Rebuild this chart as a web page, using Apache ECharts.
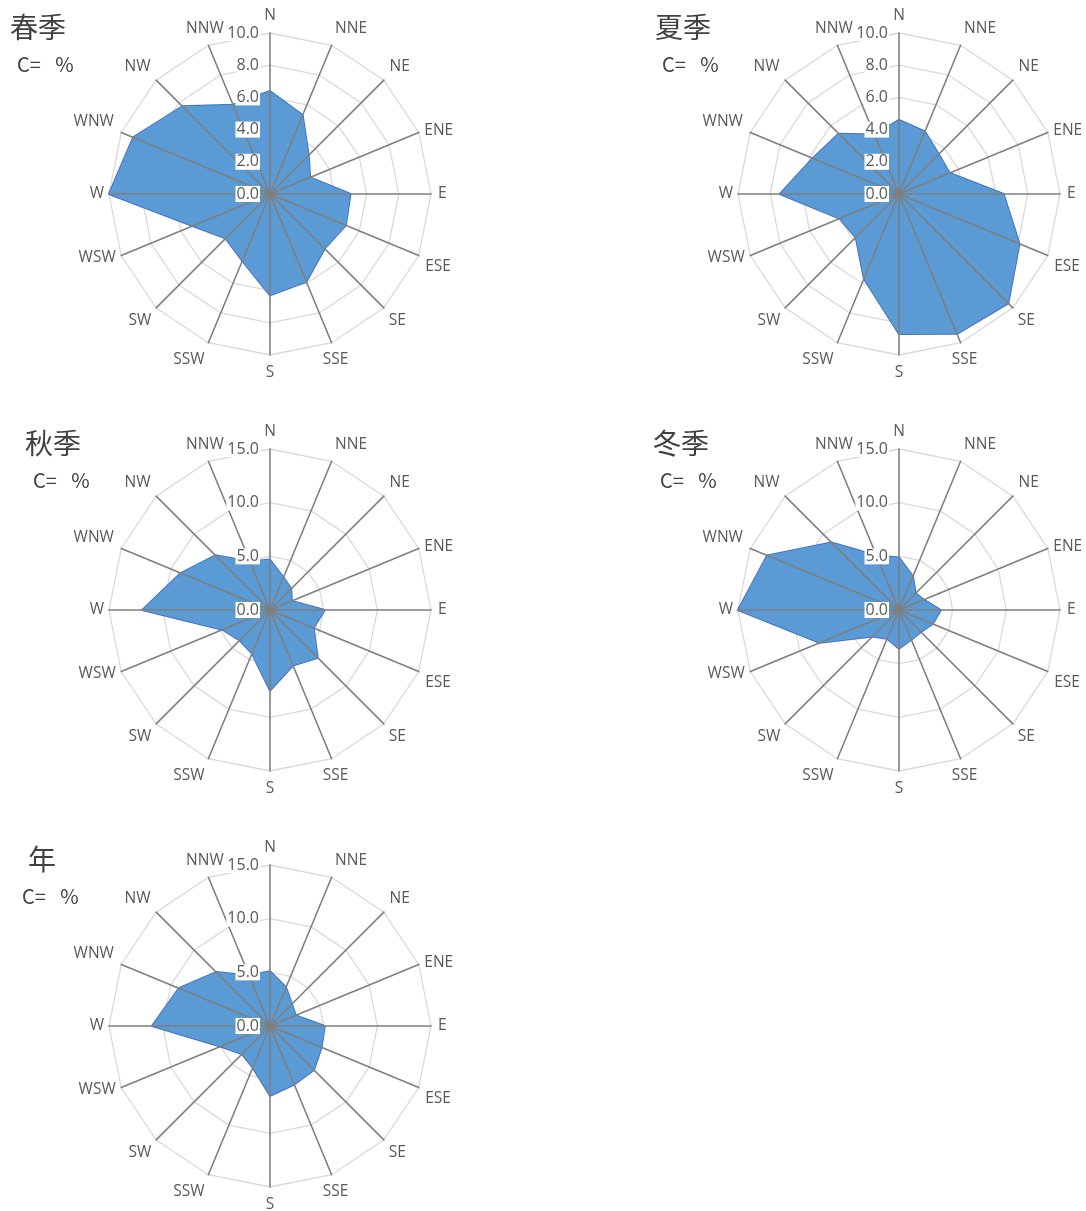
<!DOCTYPE html>
<html><head><meta charset="utf-8">
<script src="https://cdn.jsdelivr.net/npm/echarts@6/dist/echarts.min.js"></script>
<style>html,body{margin:0;padding:0;background:#fff}#c{width:1086px;height:1211px}</style>
</head><body><div id="c"></div>
<script>
const directions = ['N','NNE','NE','ENE','E','ESE','SE','SSE','S','SSW','SW','WSW','W','WNW','NW','NNW'];
const titles = ['春季','夏季','秋季','冬季','年'];
const unitLabel = 'C=\u2002 %';
const axisMax = [10, 10, 15, 15, 15];
const axisSplits = [5, 5, 3, 3, 3];
const spring = [6.4, 5.3, 3.4, 2.7, 5.0, 5.1, 4.8, 5.9, 6.3, 4.5, 3.9, 5.2, 10.0, 9.2, 7.7, 6.0];
const summer = [4.6, 4.2, 3.5, 3.4, 6.5, 8.1, 9.6, 9.4, 8.7, 5.7, 3.8, 4.0, 7.4, 5.8, 5.3, 4.0];
const autumn = [4.7, 3.3, 2.8, 2.2, 5.1, 4.4, 6.3, 5.6, 7.5, 4.4, 4.0, 4.8, 11.9, 9.0, 7.2, 4.9];
const winter = [4.9, 3.4, 2.2, 2.5, 3.9, 3.4, 2.9, 3.0, 3.6, 2.9, 3.5, 8.0, 15.0, 13.3, 8.9, 5.5];
const annual = [5.1, 3.9, 2.9, 2.6, 5.1, 5.2, 5.8, 5.9, 6.5, 4.2, 3.7, 5.0, 11.0, 9.2, 7.1, 5.1];
const seriesData = [spring, summer, autumn, winter, annual];

// layout (pixels)
const centers = [[270,194],[899,194],[270,610],[899,610],[270,1026]];
const titlePos = [[10,13],[655,13],[25,429],[653,429],[28,845]];
const unitPos = [[17,54],[662,54],[33,470],[660,470],[22,886]];
const R = 161;
// direction-name placement (align, verticalAlign, gap), per direction in clockwise order
const namePlace = [
  ['center','bottom',9], ['left','bottom',9], ['left','bottom',8], ['left','middle',6],
  ['left','middle',7], ['left','top',7], ['left','top',7], ['center','top',10],
  ['center','top',10], ['right','top',10], ['right','top',7], ['right','middle',6],
  ['right','middle',5], ['right','bottom',8], ['right','bottom',8], ['center','bottom',9]
];

// ECharts radar runs counterclockwise; reorder so directions go clockwise
const order = [0].concat(directions.map((d,i)=>i).slice(1).reverse());

const radars = [], series = [], graphics = [];
seriesData.forEach((vals, k) => {
  // back radar: grid rings only (below the filled area)
  radars.push({
    center: centers[k], radius: R, startAngle: 90, shape: 'polygon', z: 0,
    splitNumber: axisSplits[k],
    indicator: order.map(idx => ({ name: directions[idx], min: 0, max: axisMax[k] })),
    axisName: { show: false },
    axisLine: { show: false }, axisTick: { show: false }, axisLabel: { show: false },
    splitLine: { lineStyle: { color: '#d9d9d9', width: 1.3 } },
    splitArea: { show: false }
  });
  // front radar: spokes, tick labels, names (above the filled area)
  radars.push({
    center: centers[k], radius: R, startAngle: 90, shape: 'polygon', z: 5,
    splitNumber: axisSplits[k],
    indicator: order.map((idx, j) => ({
      name: directions[idx], min: 0, max: axisMax[k],
      nameGap: namePlace[idx][2],
      nameTextStyle: { align: namePlace[idx][0], verticalAlign: namePlace[idx][1] },
      axisLabel: { show: j === 0 }
    })),
    axisName: { color: '#595959', fontSize: 15.5, fontFamily: 'Open Sans' },
    axisLine: { lineStyle: { color: '#7f7f7f', width: 1.6 } },
    axisTick: { show: false },
    splitLine: { show: false },
    splitArea: { show: false },
    axisLabel: {
      color: '#595959', fontSize: 16, fontFamily: 'Open Sans',
      backgroundColor: '#fff', padding: [0, 1], margin: 10,
      formatter: v => Number(v).toFixed(1)
    }
  });
  series.push({
    type: 'radar', radarIndex: 2 * k, symbol: 'none', silent: true, z: 2,
    lineStyle: { color: '#4472c4', width: 2 },
    areaStyle: { color: '#5b9bd5', opacity: 1 },
    data: [{ value: order.map(i => vals[i]) }]
  });
  graphics.push({ type: 'text', left: titlePos[k][0], top: titlePos[k][1],
    style: { text: titles[k], fontSize: 28, fill: '#404040', fontFamily: 'Noto Sans CJK JP' } });
  graphics.push({ type: 'text', left: unitPos[k][0], top: unitPos[k][1],
    style: { text: unitLabel, fontSize: 20, fill: '#404040', fontFamily: 'Noto Sans CJK JP' } });
});

const chart = echarts.init(document.getElementById('c'), null, { renderer: 'canvas' });
chart.setOption({ animation: false, radar: radars, series: series, graphic: graphics });
</script></body></html>
